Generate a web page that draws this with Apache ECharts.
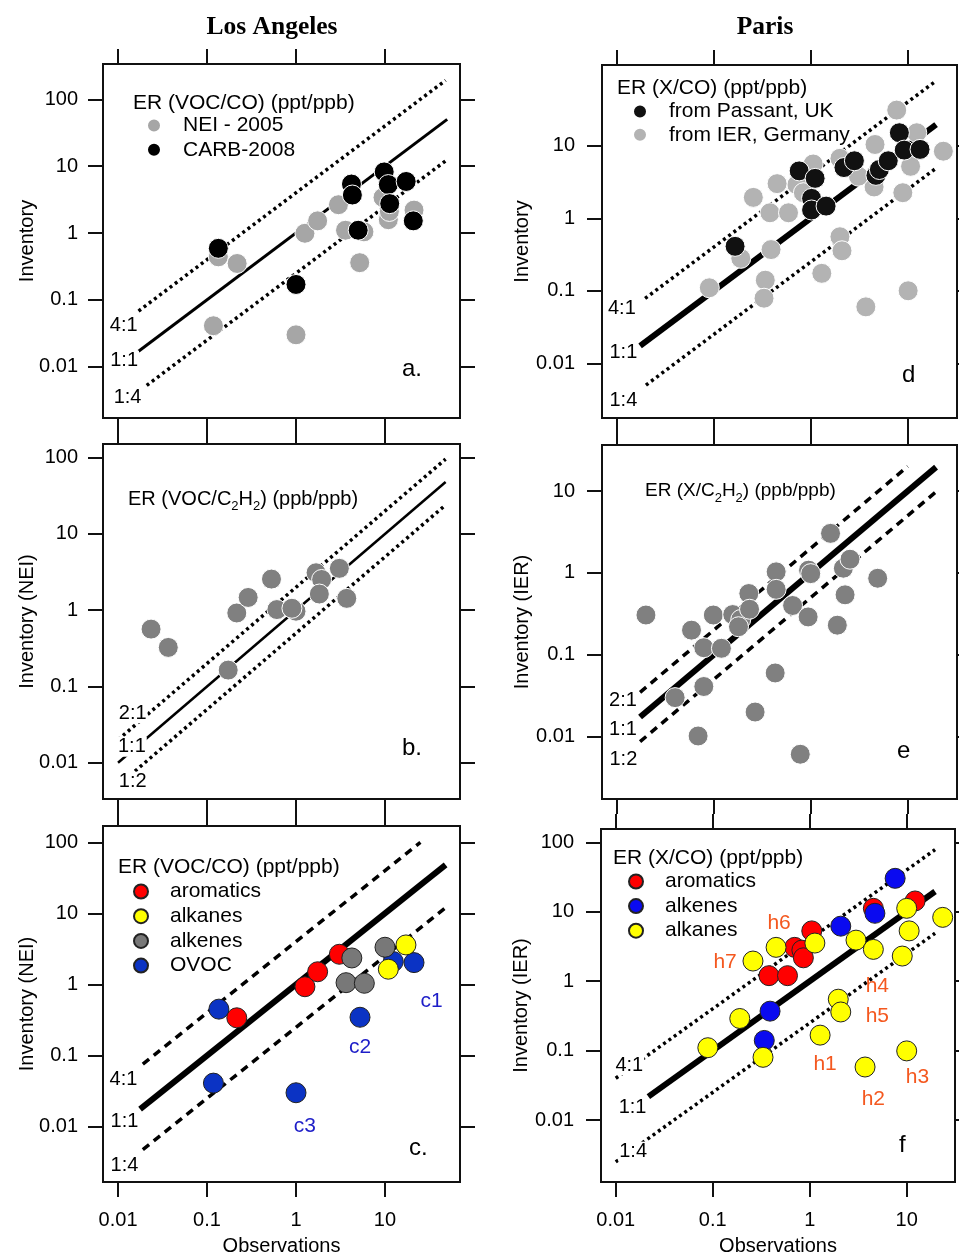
<!DOCTYPE html>
<html lang="en">
<head>
<meta charset="UTF-8">
<title>Inventory vs observations - Los Angeles / Paris</title>
<script src="https://cdn.jsdelivr.net/npm/echarts@6/dist/echarts.min.js"></script>
<style>
html, body { margin: 0; padding: 0; background: #fff; }
#main { width: 959px; height: 1257px; }
</style>
</head>
<body>
<div id="main"></div>
<script>
var FONT = '"Liberation Sans", Arial, Helvetica, sans-serif';

// tick values (log decades)
var ticks5 = [0.01, 0.1, 1, 10, 100];
var ticks4 = [0.01, 0.1, 1, 10];

// a. Los Angeles, ER (VOC/CO)
var aNei = [[0.134, 0.44], [0.218, 0.35], [0.118, 0.041], [1.0, 0.030], [1.26, 0.99], [1.75, 1.52],
    [3.0, 2.65], [3.6, 1.1], [5.8, 1.04], [5.2, 0.36], [9.5, 3.4], [10.9, 1.85], [10.9, 1.58],
    [11.2, 2.1], [21.2, 2.2]];
var aCarb = [[0.134, 0.59], [1.0, 0.17], [4.2, 5.4], [4.3, 3.7], [5.0, 1.1], [9.8, 8.2], [10.9, 5.3],
    [11.3, 2.75], [17.3, 5.9], [20.8, 1.52]];

// b. Los Angeles, ER (VOC/C2H2)
var bNei = [[0.0235, 0.565], [0.0367, 0.325], [0.173, 0.164], [0.216, 0.92], [0.29, 1.47], [0.53, 2.56],
    [0.61, 1.02], [1.0, 0.97], [0.9, 1.06], [1.68, 3.1], [1.94, 2.53], [1.83, 1.63], [3.07, 3.54],
    [3.72, 1.43]];

// c. Los Angeles by class
var cArom = [[0.216, 0.34], [1.26, 0.93], [1.75, 1.51], [3.07, 2.66]];
var cAlkane = [[17.2, 3.6], [10.9, 1.64]];
var cAlkene = [[4.24, 2.36], [3.65, 1.06], [5.86, 1.04], [10.0, 3.34]];
var cOvoc = [[0.136, 0.45], [0.118, 0.041], [1.0, 0.030], [5.24, 0.346], [21.2, 2.03], [12.4, 2.1]];

// d. Paris, ER (X/CO)
var dPassant = [[0.166, 0.41], [0.76, 4.5], [1.11, 3.55], [1.02, 1.88], [1.02, 1.3], [1.44, 1.47],
    [2.2, 5.0], [2.82, 6.2], [4.7, 3.9], [5.1, 4.7], [6.3, 6.2], [8.2, 15.1], [9.2, 8.7], [13.4, 8.9]];
var dIer = [[7.7, 31], [12.4, 15.1], [23.3, 8.4], [10.7, 5.2], [8.9, 2.25], [4.6, 10.4], [4.5, 2.7],
    [3.1, 3.8], [2.0, 6.7], [1.06, 5.6], [0.72, 2.9], [0.84, 2.25], [0.45, 3.0], [0.256, 1.94],
    [0.38, 1.19], [0.59, 1.19], [0.19, 0.28], [0.39, 0.37], [0.09, 0.11], [0.34, 0.14], [0.33, 0.079],
    [2.0, 0.556], [2.1, 0.356], [1.3, 0.174], [3.7, 0.06], [10.1, 0.1]];

// e. Paris, ER (X/C2H2)
var eIer = [[0.02, 0.306], [0.059, 0.2], [0.079, 0.122], [0.12, 0.12], [0.099, 0.306], [0.157, 0.31],
    [0.19, 0.27], [0.18, 0.22], [0.23, 0.56], [0.234, 0.36], [0.04, 0.03], [0.079, 0.041],
    [0.069, 0.0102], [0.267, 0.02], [0.44, 1.03], [0.44, 0.63], [0.43, 0.06], [0.65, 0.4], [0.94, 0.29],
    [0.95, 1.08], [1.0, 0.98], [0.78, 0.0061], [1.6, 3.04], [2.17, 1.14], [2.54, 1.47], [2.26, 0.54],
    [1.88, 0.23], [4.9, 0.86]];

// f. Paris by class
var fArom = [[1.05, 5.3], [0.7, 3.07], [0.83, 2.8], [0.86, 2.17], [0.38, 1.2], [0.59, 1.2], [4.53, 11.2],
    [12.2, 14.3]];
var fAlkene = [[7.6, 30.3], [2.09, 6.2], [4.7, 9.5], [0.39, 0.37], [0.34, 0.14]];
var fAlkane = [[0.089, 0.11], [0.19, 0.29], [0.33, 0.08], [0.26, 1.95], [0.45, 3.07], [1.13, 3.54],
    [3.0, 3.9], [4.53, 2.87], [10, 11.2], [10.6, 5.3], [9.0, 2.3], [23.5, 8.3], [1.97, 0.55], [2.09, 0.36],
    [1.28, 0.167], [3.72, 0.058], [10, 0.099]];

// reference lines: ratio k, x range
var refA = [[4, 0.017, 48], [1, 0.017, 50], [0.25, 0.021, 48]];
var refB = [[2, 0.01, 48], [1, 0.01, 48], [0.5, 0.012, 48]];
var refC = [[4, 0.019, 25], [1, 0.0177, 48], [0.25, 0.019, 48]];
var refD = [[4, 0.0196, 19.5], [1, 0.0174, 19.6], [0.25, 0.02, 19.6]];
var refE = [[2, 0.0174, 10], [1, 0.0174, 19.6], [0.5, 0.0174, 19.6]];
var refF = [[4, 0.01, 19.6], [1, 0.0217, 19.6], [0.25, 0.01, 19.6]];

var panels = [
    { rect: [103, 64, 357, 354], xe: [-2.169, 1.843], ye: [-2.767, 2.528], yTicks: ticks5, xLab: false,
      yName: 'Inventory', gap: 66, margin: 25, ref: refA, solidW: 3, side: 'dot',
      sets: [['a|NEI - 2005', aNei, '#a6a6a6', '#fff'], ['a|CARB-2008', aCarb, '#000', '#fff']],
      ratio: [['4:1', 0.0116, 0.042], ['1:1', 0.0117, 0.0123], ['1:4', 0.0128, 0.00344]] },
    { rect: [103, 444, 357, 355], xe: [-2.169, 1.843], ye: [-2.476, 2.18], yTicks: ticks5, xLab: false,
      yName: 'Inventory (NEI)', gap: 66, margin: 25, ref: refB, solidW: 2.5, side: 'dot',
      sets: [['b|NEI', bNei, '#808080', '#fff']],
      ratio: [['2:1', 0.0146, 0.0445], ['1:1', 0.0143, 0.0162], ['1:2', 0.0146, 0.00564]] },
    { rect: [103, 826, 357, 356], xe: [-2.169, 1.843], ye: [-2.778, 2.229], yTicks: ticks5, xLab: true,
      yName: 'Inventory (NEI)', gap: 66, margin: 25, ref: refC, solidW: 6, side: 'dash',
      sets: [['c|OVOC', cOvoc, '#0b33c4', '#222'], ['c|aromatics', cArom, '#ff0000', '#222'],
             ['c|alkenes', cAlkene, '#787878', '#222'], ['c|alkanes', cAlkane, '#ffff00', '#222']],
      ratio: [['4:1', 0.0115, 0.0464], ['1:1', 0.0118, 0.0118], ['1:4', 0.0118, 0.00289]],
      notes: [['c1', 33.5, 0.59], ['c2', 5.24, 0.131], ['c3', 1.26, 0.0101]], noteColor: '#1e1ec8' },
    { rect: [602, 65, 355, 353], xe: [-2.152, 1.508], ye: [-2.754, 2.113], yTicks: ticks4, xLab: false,
      yName: 'Inventory', gap: 70, margin: 27, ref: refD, solidW: 6, side: 'dot',
      sets: [['d|from IER, Germany', dIer, '#b3b3b3', '#fff'], ['d|from Passant, UK', dPassant, '#111', '#fff']],
      ratio: [['4:1', 0.0113, 0.0573], ['1:1', 0.0117, 0.014], ['1:4', 0.0117, 0.00312]] },
    { rect: [602, 445, 355, 354], xe: [-2.152, 1.508], ye: [-2.761, 1.562], yTicks: ticks4, xLab: false,
      yName: 'Inventory (IER)', gap: 70, margin: 27, ref: refE, solidW: 6, side: 'dash',
      sets: [['e|IER', eIer, '#808080', '#fff']],
      ratio: [['2:1', 0.0116, 0.028], ['1:1', 0.0116, 0.0121], ['1:2', 0.0117, 0.0052]] },
    { rect: [601, 829, 354, 353], xe: [-2.152, 1.498], ye: [-2.893, 2.192], yTicks: ticks5, xLab: true,
      yName: 'Inventory (IER)', gap: 70, margin: 27, ref: refF, solidW: 6, side: 'dot',
      sets: [['f|aromatics', fArom, '#ff0000', '#222'], ['f|alkenes', fAlkene, '#0a0af0', '#222'],
             ['f|alkanes', fAlkane, '#ffff00', '#222']],
      ratio: [['4:1', 0.0138, 0.062], ['1:1', 0.0149, 0.015], ['1:4', 0.0151, 0.0035]],
      notes: [['h1', 1.44, 0.064], ['h2', 4.53, 0.0199], ['h3', 12.9, 0.041], ['h4', 4.98, 0.86],
              ['h5', 4.98, 0.308], ['h6', 0.483, 6.8], ['h7', 0.134, 1.9]], noteColor: '#f4581f' }
];

function fmt(v) { return String(+Number(v).toPrecision(6)); }

function logAxis(o) {
    return {
        type: 'log', logBase: 10, gridIndex: o.grid, position: o.pos,
        min: o.min, max: o.max,
        name: o.name || '', nameLocation: 'middle', nameGap: o.nameGap || 0, nameMoveOverlap: false,
        nameTextStyle: { fontFamily: FONT, fontSize: 20, color: '#000' },
        axisLine: { show: false },
        axisTick: { show: true, inside: false, length: 15, customValues: o.ticks,
                    lineStyle: { color: '#111', width: 2 } },
        axisLabel: { show: !!o.labels, customValues: o.ticks, margin: o.margin || 8, fontFamily: FONT,
                     fontSize: 20, color: '#000', formatter: fmt },
        splitLine: { show: false }, minorTick: { show: false }, minorSplitLine: { show: false }
    };
}

// text placed at a data point through the panel's axes
function textSeries(i, items, color, size, bg) {
    return {
        type: 'scatter', xAxisIndex: 2 * i, yAxisIndex: 2 * i, silent: true, symbolSize: 0, z: 5,
        animation: false, itemStyle: { color: '#000' },
        data: items.map(function (t) { return { name: t[0], value: [t[1], t[2]] }; }),
        label: { show: true, position: [0, 0], align: 'center', verticalAlign: 'middle', formatter: '{b}',
                 color: color, opacity: 1, textBorderWidth: 0, fontSize: size, fontFamily: FONT,
                 backgroundColor: bg || 'transparent', padding: [0, 1] }
    };
}

var grid = [], xAxis = [], yAxis = [], series = [];

panels.forEach(function (p, i) {
    grid.push({ left: p.rect[0], top: p.rect[1], width: p.rect[2], height: p.rect[3], show: true,
                borderColor: '#111', borderWidth: 2, backgroundColor: 'transparent' });
    var xmin = Math.pow(10, p.xe[0]), xmax = Math.pow(10, p.xe[1]);
    var ymin = Math.pow(10, p.ye[0]), ymax = Math.pow(10, p.ye[1]);
    xAxis.push(logAxis({ grid: i, pos: 'bottom', min: xmin, max: xmax, ticks: ticks4, labels: p.xLab,
                         margin: 28, name: p.xLab ? 'Observations' : '', nameGap: 54 }));
    xAxis.push(logAxis({ grid: i, pos: 'top', min: xmin, max: xmax, ticks: ticks4 }));
    yAxis.push(logAxis({ grid: i, pos: 'left', min: ymin, max: ymax, ticks: p.yTicks, labels: true,
                         margin: p.margin, name: p.yName, nameGap: p.gap }));
    yAxis.push(logAxis({ grid: i, pos: 'right', min: ymin, max: ymax, ticks: p.yTicks }));

    // 1:1 and bounding ratio lines
    p.ref.forEach(function (r) {
        var solid = r[0] === 1;
        var dash = p.side === 'dot' ? [3, 3.5] : [8, 6];
        series.push({
            type: 'line', xAxisIndex: 2 * i, yAxisIndex: 2 * i, silent: true, symbol: 'none', z: 2,
            data: [[r[1], r[0] * r[1]], [r[2], r[0] * r[2]]],
            lineStyle: { color: '#000', width: solid ? p.solidW : 3.5, type: solid ? 'solid' : dash, cap: 'butt' },
            animation: false
        });
    });

    // points
    p.sets.forEach(function (s) {
        series.push({
            type: 'scatter', name: s[0], xAxisIndex: 2 * i, yAxisIndex: 2 * i, data: s[1],
            symbol: 'circle', symbolSize: 20, z: 3, animation: false,
            itemStyle: { color: s[2], borderColor: s[3], borderWidth: 1, opacity: 1 },
            emphasis: { disabled: true }
        });
    });

    series.push(textSeries(i, p.ratio, '#000', 20, '#fff'));
    if (p.notes) series.push(textSeries(i, p.notes, p.noteColor, 21));
});

function legendBox(left, top, gap, names) {
    return {
        left: left, top: top, orient: 'vertical', padding: 0, itemGap: gap, itemWidth: 14, itemHeight: 14,
        icon: 'circle', selectedMode: false, data: names,
        formatter: function (n) { return n.split('|')[1]; },
        textStyle: { fontFamily: FONT, fontSize: 21, color: '#000', lineHeight: 20, padding: [0, 0, 0, 17] }
    };
}

var legend = [
    legendBox(146, 115, 3.3, ['a|NEI - 2005', 'a|CARB-2008']),
    legendBox(133, 881, 3.7, ['c|aromatics', 'c|alkanes', 'c|alkenes', 'c|OVOC']),
    legendBox(632, 101, 2.3, ['d|from Passant, UK', 'd|from IER, Germany']),
    legendBox(628, 871, 3.6, ['f|aromatics', 'f|alkenes', 'f|alkanes'])
];

function txt(x, y, text, size, extra) {
    var st = { text: text, x: 0, y: 0, fill: '#000', fontFamily: FONT, fontSize: size,
               align: 'left', verticalAlign: 'middle' };
    for (var k in extra) st[k] = extra[k];
    return { type: 'text', x: x, y: y, silent: true, z: 10, style: st };
}

var subRich = { s: { fontSize: 13, fontFamily: FONT, verticalAlign: 'bottom', lineHeight: 13 } };
var SERIF = '"Liberation Serif", "Times New Roman", serif';

var graphic = [
    txt(272, 27, 'Los Angeles', 25.5, { fontFamily: SERIF, fontWeight: 'bold', align: 'center' }),
    txt(765, 27, 'Paris', 25.5, { fontFamily: SERIF, fontWeight: 'bold', align: 'center' }),
    txt(133, 103, 'ER (VOC/CO) (ppt/ppb)', 21),
    txt(128, 499, 'ER (VOC/C{s|2}H{s|2}) (ppb/ppb)', 20, { rich: subRich, lineHeight: 28 }),
    txt(118, 867, 'ER (VOC/CO) (ppt/ppb)', 21),
    txt(617, 88, 'ER (X/CO) (ppt/ppb)', 21),
    txt(645, 491, 'ER (X/C{s|2}H{s|2}) (ppb/ppb)', 19, { rich: subRich, lineHeight: 28 }),
    txt(613, 858, 'ER (X/CO) (ppt/ppb)', 21),
    txt(402, 369, 'a.', 24),
    txt(402, 748, 'b.', 24),
    txt(409, 1148, 'c.', 24),
    txt(902, 375, 'd', 24),
    txt(897, 751, 'e', 24),
    txt(899, 1145, 'f', 24)
];

var chart = echarts.init(document.getElementById('main'));
chart.setOption({
    animation: false,
    backgroundColor: '#fff',
    textStyle: { fontFamily: FONT },
    grid: grid,
    xAxis: xAxis,
    yAxis: yAxis,
    legend: legend,
    graphic: graphic,
    series: series
});
</script>
</body>
</html>
